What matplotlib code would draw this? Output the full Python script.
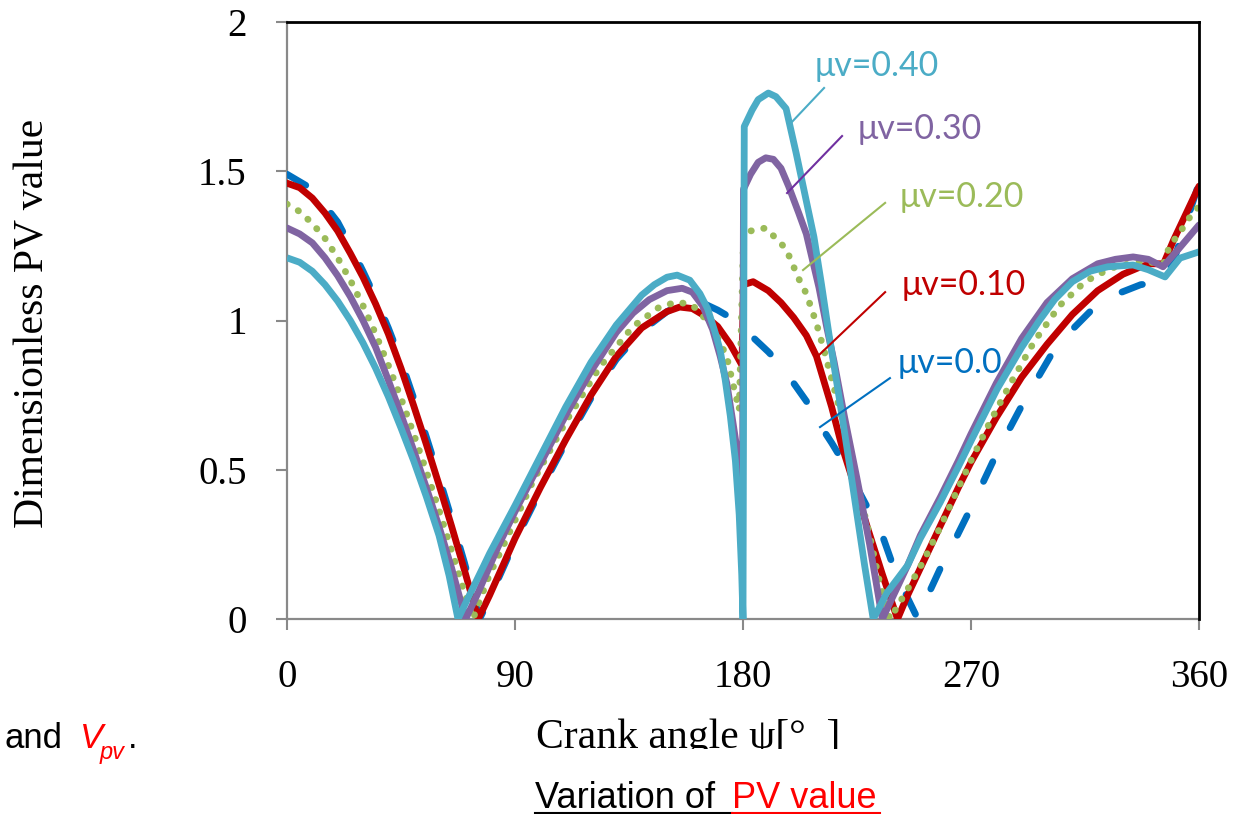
import matplotlib
matplotlib.use("Agg")
import matplotlib.pyplot as plt
from matplotlib.lines import Line2D
from matplotlib.patches import Rectangle

# ---------------- data ----------------
ang_00 = [0, 10, 20, 25, 30, 35, 40, 45, 50, 55, 60, 65, 70, 76,
          80, 90, 100, 110, 120, 130, 140, 150, 155, 160, 165, 170, 175, 180,
          185, 190, 195, 200, 205, 210, 215, 220, 225, 230, 235, 240, 245, 249,
          253, 259, 264, 271, 281, 291, 302, 310, 317, 325, 337, 346, 350, 355, 360]
val_00 = [1.49, 1.44, 1.33, 1.25, 1.165, 1.075, 0.975, 0.865, 0.74, 0.61, 0.475, 0.335, 0.19, 0.0,
          0.07, 0.26, 0.43, 0.59, 0.74, 0.87, 0.965, 1.03, 1.05, 1.06, 1.055, 1.035, 1.01, 0.975,
          0.935, 0.895, 0.85, 0.79, 0.73, 0.655, 0.59, 0.52, 0.44, 0.36, 0.28, 0.16, 0.07, 0.0,
          0.08, 0.19, 0.27, 0.39, 0.57, 0.73, 0.89, 0.97, 1.03, 1.08, 1.12, 1.13, 1.20, 1.33, 1.46]

ang_10 = [0, 5, 10, 15, 20, 25, 30, 35, 40, 45, 50, 55, 60, 65, 70, 75.5,
          80, 90, 100, 110, 120, 130, 140, 150, 155, 160, 165, 170, 175, 179.6,
          180.2, 184, 190, 195, 200, 205, 209, 215, 219, 225, 229, 235, 241,
          245, 250, 255, 260, 265, 270, 275, 280, 290, 300, 310, 320, 330, 337, 341, 346,
          350, 355, 360]
val_10 = [1.46, 1.445, 1.41, 1.36, 1.30, 1.225, 1.145, 1.055, 0.955, 0.84, 0.715, 0.585, 0.45, 0.31, 0.165, 0.0,
          0.08, 0.27, 0.44, 0.60, 0.75, 0.88, 0.975, 1.03, 1.045, 1.04, 1.015, 0.98, 0.92, 0.85,
          1.12, 1.13, 1.10, 1.06, 1.01, 0.95, 0.88, 0.71, 0.58, 0.42, 0.31, 0.15, 0.0,
          0.08, 0.17, 0.26, 0.35, 0.44, 0.525, 0.60, 0.675, 0.81, 0.92, 1.02, 1.10, 1.155, 1.18, 1.19, 1.19,
          1.27, 1.36, 1.45]

ang_20 = [0, 5, 10, 15, 20, 25, 30, 35, 40, 45, 50, 55, 60, 65, 70, 73.4,
          80, 84, 90, 97, 110.5, 123.5, 136.6, 147, 154, 160, 168, 173.6, 176, 178.5,
          180.2, 183, 189, 197, 202, 205, 209, 212, 217, 221, 226, 230, 234, 238,
          245, 251, 258, 264.5, 270, 277.5, 285, 295, 305, 315, 325, 335, 341, 346,
          348, 351, 354.5, 357.7, 360]
val_20 = [1.39, 1.365, 1.325, 1.275, 1.21, 1.135, 1.05, 0.955, 0.85, 0.74, 0.62, 0.495, 0.365, 0.23, 0.09, 0.0,
          0.15, 0.22, 0.33, 0.46, 0.667, 0.845, 0.98, 1.045, 1.062, 1.052, 0.98, 0.878, 0.79, 0.70,
          1.28, 1.30, 1.31, 1.24, 1.14, 1.09, 0.99, 0.90, 0.74, 0.61, 0.42, 0.28, 0.12, 0.0,
          0.10, 0.19, 0.31, 0.43, 0.53, 0.66, 0.78, 0.93, 1.05, 1.13, 1.175, 1.195, 1.195, 1.19,
          1.24, 1.28, 1.32, 1.365, 1.38]

ang_30 = [0, 5, 10, 15, 20, 25, 30, 35, 40, 45, 50, 55, 60, 65, 70.5,
          75, 84, 90, 97, 100, 110.5, 120, 130, 136.6, 143, 150, 156, 160, 164, 168, 171,
          173.6, 176, 177.6, 179, 179.8,
          180.2, 183, 186, 189, 192, 195, 198, 202, 205, 210, 213, 216, 220, 225, 230, 235,
          240, 245, 250, 258, 265, 270, 280, 290, 300, 310, 320, 327, 334, 340, 345.8,
          352, 359, 360]
val_30 = [1.31, 1.29, 1.26, 1.21, 1.15, 1.08, 1.0, 0.91, 0.80, 0.685, 0.565, 0.44, 0.31, 0.17, 0.0,
          0.08, 0.255, 0.36, 0.475, 0.52, 0.69, 0.83, 0.96, 1.025, 1.07, 1.10, 1.108, 1.095, 1.05, 0.97, 0.88,
          0.79, 0.66, 0.57, 0.45, 0.40,
          1.44, 1.49, 1.53, 1.545, 1.54, 1.51, 1.45, 1.36, 1.29, 1.11, 0.98, 0.86, 0.68, 0.47, 0.25, 0.0,
          0.09, 0.18, 0.28, 0.41, 0.53, 0.62, 0.79, 0.94, 1.06, 1.14, 1.19, 1.205, 1.213, 1.205, 1.18,
          1.24, 1.31, 1.32]

ang_40 = [0, 5, 10, 15, 20, 25, 30, 35, 40, 45, 50, 55, 60, 64, 67.5,
          72, 77.4, 80, 90, 100, 110, 120, 130, 140, 145, 150, 154, 159, 163, 166, 169, 171,
          173, 175, 177, 178.5, 179.5, 180,
          180.5, 183.6, 186, 190, 193, 197, 201, 205, 208, 211, 214, 218, 222, 225, 228, 231.4,
          237, 245, 250, 257.8, 265, 270.8, 280.3, 290, 297, 303, 310, 317, 324, 334, 340, 346.6,
          352.5, 360]
val_40 = [1.21, 1.195, 1.165, 1.12, 1.065, 1.0, 0.925, 0.84, 0.745, 0.64, 0.53, 0.41, 0.28, 0.145, 0.0,
          0.08, 0.174, 0.22, 0.38, 0.545, 0.71, 0.86, 0.985, 1.085, 1.12, 1.145, 1.152, 1.135, 1.09, 1.04, 0.96, 0.90,
          0.80, 0.68, 0.53, 0.35, 0.15, 0.0,
          1.65, 1.705, 1.74, 1.762, 1.75, 1.71, 1.56, 1.40, 1.28, 1.12, 0.95, 0.74, 0.52, 0.35, 0.18, 0.0,
          0.09, 0.18, 0.27, 0.39, 0.51, 0.61, 0.77, 0.91, 1.0, 1.07, 1.13, 1.165, 1.18, 1.186, 1.17, 1.146,
          1.209, 1.23]

series_labels = ["μv=0.0", "μv=0.10", "μv=0.20", "μv=0.30", "μv=0.40"]
x_ticks = [0, 90, 180, 270, 360]
y_ticks = [0, 0.5, 1, 1.5, 2]
y_ticklabels = ["0", "0.5", "1", "1.5", "2"]

# ---------------- style ----------------
C_BLUE = "#0070C0"
C_RED = "#C00000"
C_GREEN = "#9BBB59"
C_PURPLE = "#8064A2"
C_CYAN = "#4BACC6"
SERIF = ["Liberation Serif", "DejaVu Serif"]
SANS = ["Liberation Sans", "DejaVu Sans"]
LBL = ["Lato", "DejaVu Sans"]

W, H = 1243, 814
fig = plt.figure(figsize=(W / 100, H / 100), dpi=100)
L, R, T, B = 287, 1199, 22, 619
ax = fig.add_axes([L / W, 1 - B / H, (R - L) / W, (B - T) / H])

LW = 4.9
ax.plot(ang_00, val_00, color=C_BLUE, lw=LW, linestyle=(0, (3.2, 5.6)),
        dash_capstyle="round", dash_joinstyle="round", zorder=3)
ax.plot(ang_10, val_10, color=C_RED, lw=LW, solid_capstyle="round",
        solid_joinstyle="round", zorder=4)
ax.plot(ang_20, val_20, color=C_GREEN, lw=LW, linestyle=(0, (0.05, 1.85)),
        dash_capstyle="round", zorder=5)
ax.plot(ang_30, val_30, color=C_PURPLE, lw=LW, solid_capstyle="round",
        solid_joinstyle="round", zorder=6)
ax.plot(ang_40, val_40, color=C_CYAN, lw=LW, solid_capstyle="butt",
        solid_joinstyle="round", zorder=7)

ax.set_xlim(0, 360)
ax.set_ylim(0, 2)
ax.set_xticks(x_ticks)
ax.set_yticks(y_ticks)
ax.set_yticklabels(y_ticklabels)
for lab in ax.get_xticklabels() + ax.get_yticklabels():
    lab.set_fontfamily(SERIF)
    lab.set_fontsize(28)
ax.tick_params(axis="y", direction="out", length=8, width=1.5, color="#898989", pad=21)
ax.tick_params(axis="x", direction="out", length=8, width=1.5, color="#898989", pad=21)
for s in ("left", "bottom"):
    ax.spines[s].set_color("#898989")
    ax.spines[s].set_linewidth(1.6)
for s in ("top", "right"):
    ax.spines[s].set_color("black")
    ax.spines[s].set_linewidth(2)
    ax.spines[s].set_zorder(10)

# data labels with leader lines
lab_pos = [(241.2, 0.858), (242.8, 1.119), (242.0, 1.414), (225.4, 1.642), (208.4, 1.853)]
lab_col = [C_BLUE, C_RED, C_GREEN, C_PURPLE, C_CYAN]
lead_col = [C_BLUE, C_RED, C_GREEN, "#7030A0", C_CYAN]
leaders = [((238.0, 0.807), (210.4, 0.643)),
           ((236.1, 1.095), (209.2, 0.878)),
           ((236.1, 1.394), (203.7, 1.169)),
           ((219.1, 1.618), (197.4, 1.427)),
           ((212.0, 1.779), (199.3, 1.665))]
for txt, pos, col, lc, (p0, p1) in zip(series_labels, lab_pos, lab_col, lead_col, leaders):
    ax.text(pos[0], pos[1], txt, color=col, fontsize=24.5, family=LBL,
            ha="left", va="center", zorder=12)
    ax.plot([p0[0], p1[0]], [p0[1], p1[1]], color=lc, lw=1.5, zorder=11)

# axis titles
fig.text(33 / W, 1 - 323 / H, "Dimensionless PV value", rotation=90, fontsize=30,
         family=SERIF, ha="center", va="center")
fig.text(688 / W, 1 - 748 / H, "Crank angle ψ[°  ]", fontsize=30, family=SERIF,
         ha="center", va="baseline")
# the x title is cut at its baseline in the reference
fig.patches.append(Rectangle((510 / W, 1 - 775 / H), 380 / W, 26 / H,
                             transform=fig.transFigure, facecolor="white",
                             edgecolor="none", zorder=5))

# caption fragments
fig.text(5 / W, 1 - 748 / H, "and", fontsize=25, family=SANS, ha="left", va="baseline", zorder=6)
fig.text(80 / W, 1 - 748 / H, "V", fontsize=25, family=SANS, style="italic",
         color="red", ha="left", va="baseline", zorder=6)
fig.text(100 / W, 1 - 759 / H, "pv", fontsize=17, family=SANS, style="italic",
         color="red", ha="left", va="baseline", zorder=6)
fig.text(128 / W, 1 - 748 / H, ".", fontsize=25, family=SANS, ha="left", va="baseline", zorder=6)

fig.text(535 / W, 1 - 808 / H, "Variation of ", fontsize=26, family=SANS,
         ha="left", va="baseline", zorder=6)
fig.text(732 / W, 1 - 808 / H, "PV value", fontsize=26, family=SANS, color="red",
         ha="left", va="baseline", zorder=6)
fig.lines.append(Line2D([535 / W, 732 / W], [1 - 813 / H, 1 - 813 / H],
                        transform=fig.transFigure, color="black", lw=1.5, zorder=6))
fig.lines.append(Line2D([732 / W, 880 / W], [1 - 813 / H, 1 - 813 / H],
                        transform=fig.transFigure, color="red", lw=1.5, zorder=6))

fig.savefig("out.png", dpi=100, facecolor="white")
